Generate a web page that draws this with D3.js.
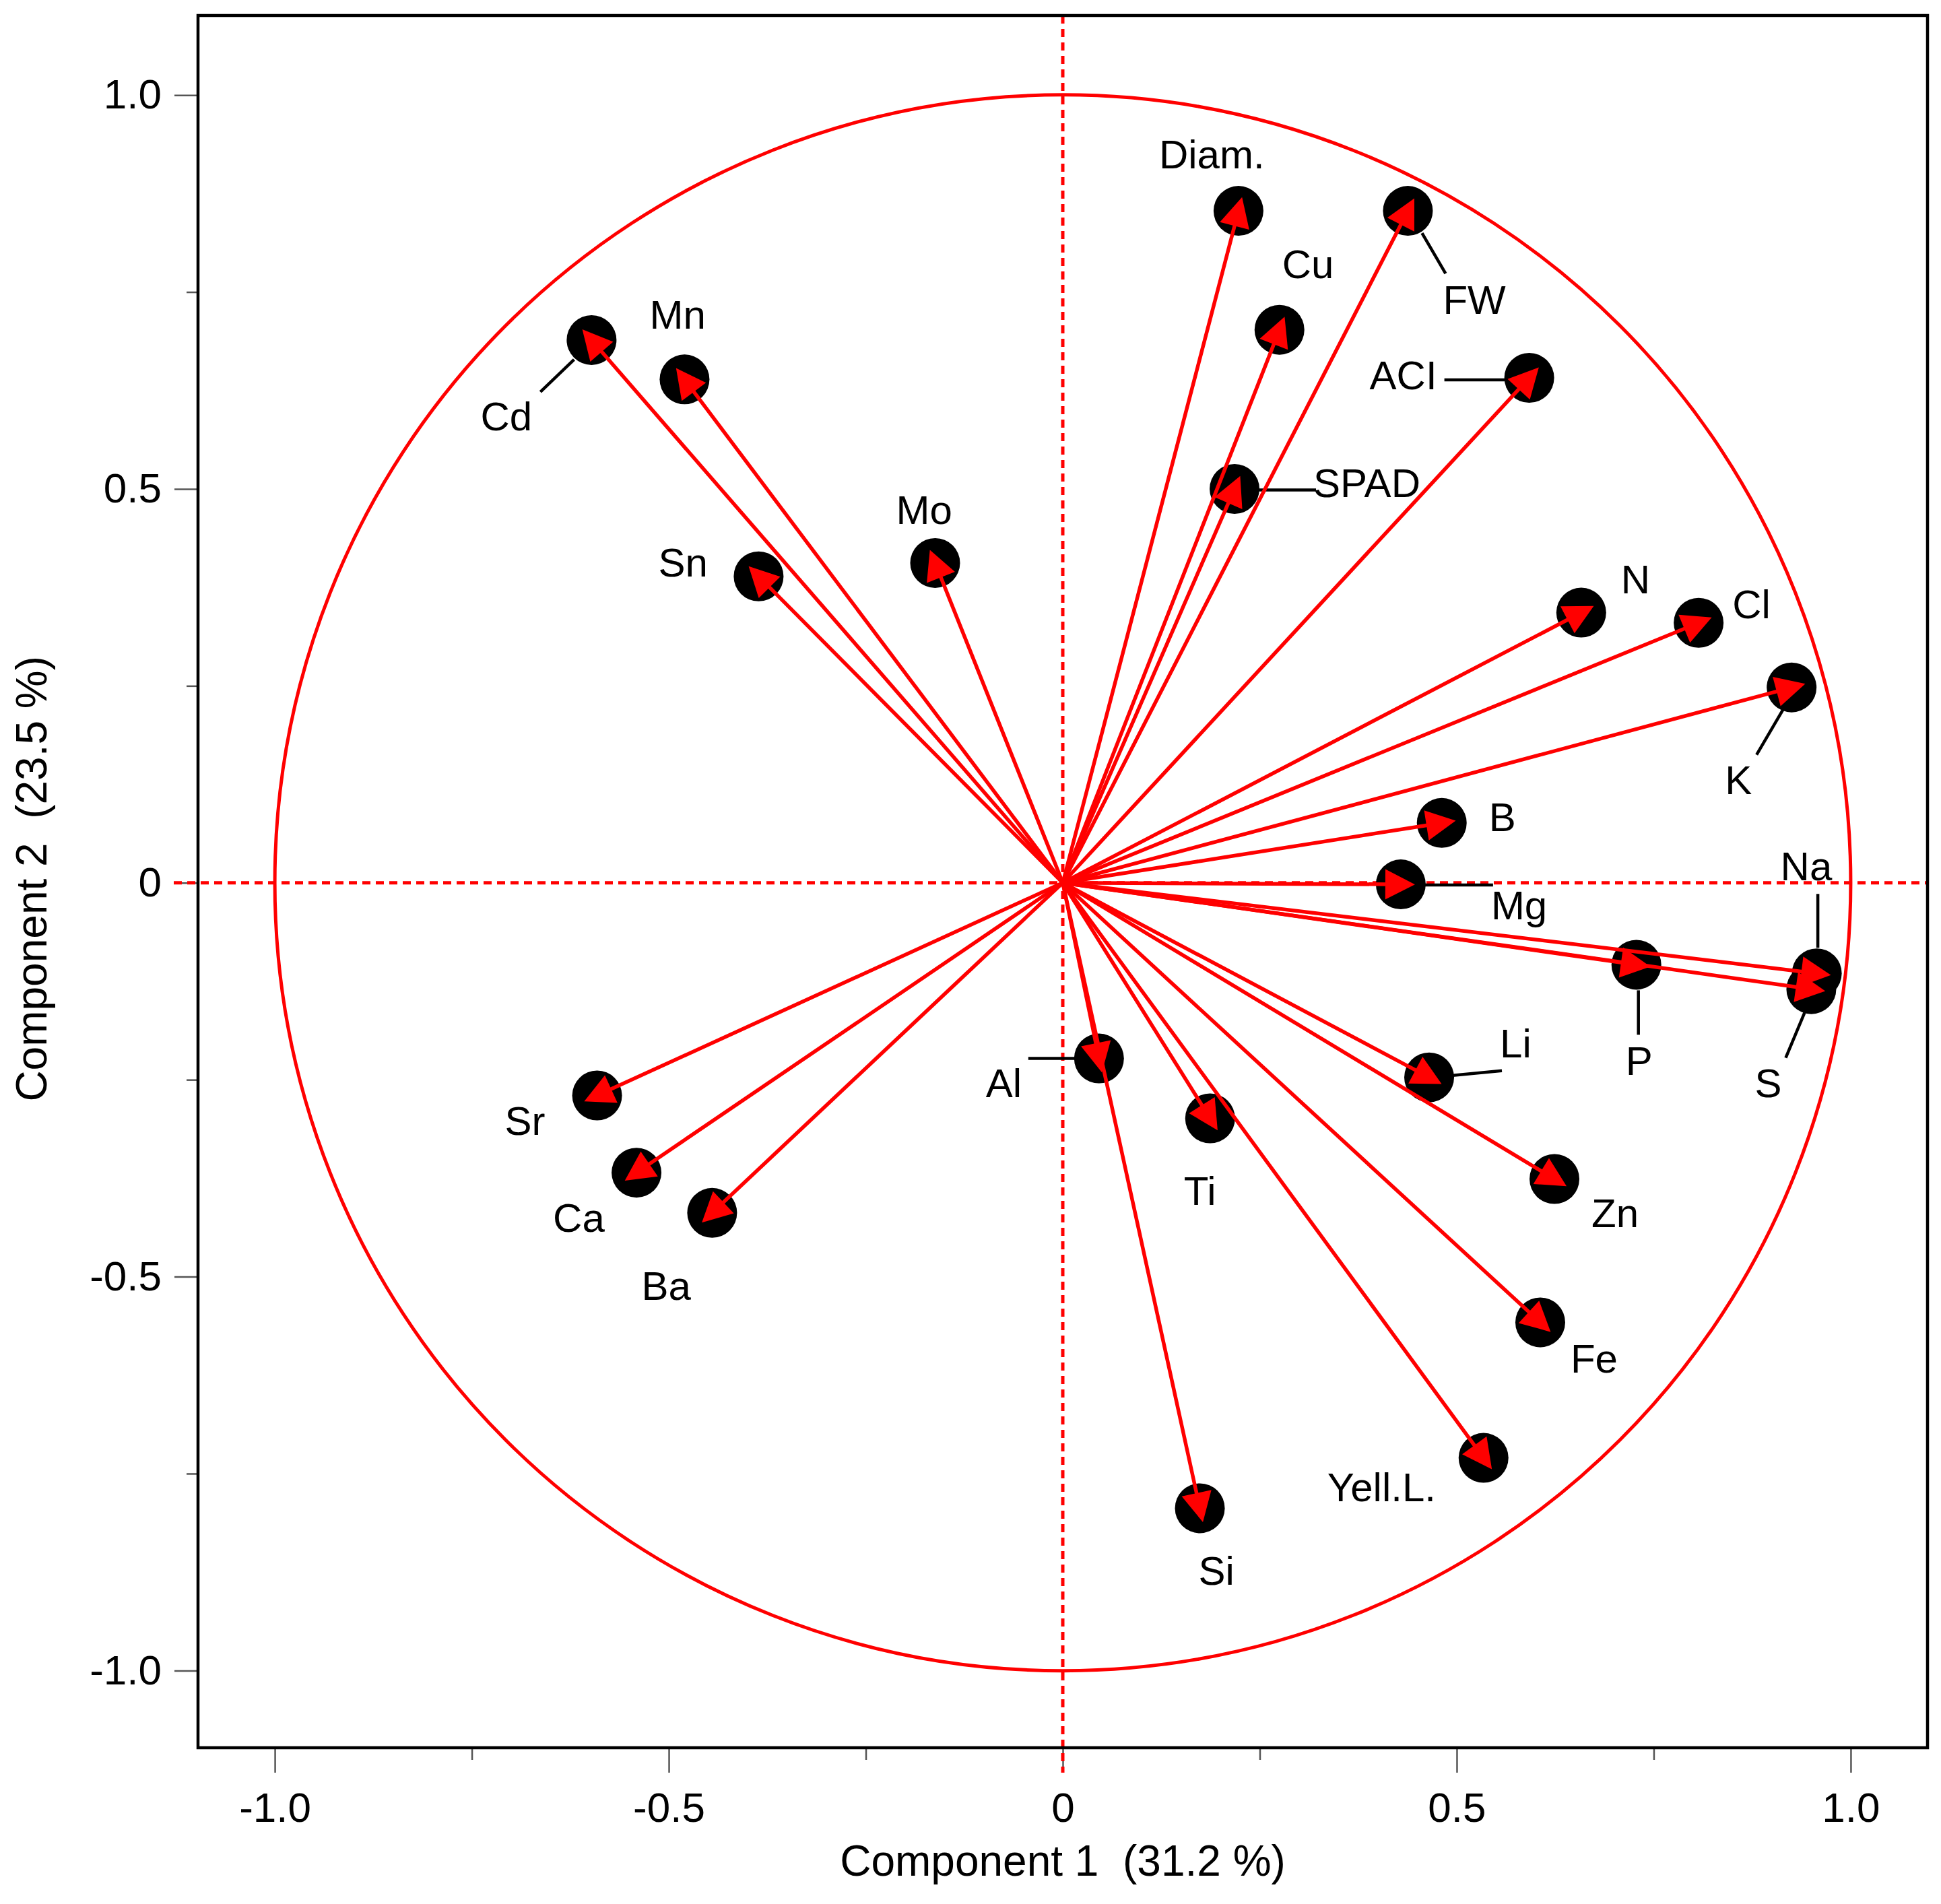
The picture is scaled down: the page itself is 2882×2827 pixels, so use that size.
<!DOCTYPE html>
<html>
<head>
<meta charset="utf-8">
<script src="https://cdn.jsdelivr.net/npm/d3@7"></script>
<style>
  html, body { margin: 0; padding: 0; background: #fff; }
  svg { display: block; }
  text { font-family: "Liberation Sans", Arial, Helvetica, sans-serif; fill: #000; }
</style>
</head>
<body>
<script>
// ---- data (loadings) ----
const variables = ["Diam.","FW","Cu","ACI","SPAD","Cd","Mn","Sn","Mo","N","Cl","K","B","Mg","P","Na","S","Li","Al","Ti","Zn","Fe","Yell.L.","Si","Sr","Ca","Ba"];
const comp1 = [0.223,0.438,0.275,0.592,0.218,-0.598,-0.480,-0.386,-0.162,0.658,0.807,0.925,0.481,0.429,0.728,0.957,0.950,0.465,0.046,0.187,0.624,0.606,0.534,0.174,-0.591,-0.541,-0.445];
const comp2 = [0.853,0.853,0.702,0.641,0.500,0.689,0.639,0.389,0.406,0.343,0.330,0.248,0.076,-0.002,-0.104,-0.115,-0.135,-0.247,-0.223,-0.299,-0.376,-0.558,-0.730,-0.794,-0.270,-0.368,-0.419];
const majorTicks = [-1.0,-0.5,0,0.5,1.0];
const majorTickLabels = ["-1.0","-0.5","0","0.5","1.0"];
const minorTicks = [-0.75,-0.25,0.25,0.75];
const xTitle = "Component 1  (31.2 %)";
const yTitle = "Component 2  (23.5 %)";

// ---- label placement (pixel offsets from each point: text left/baseline, optional leader) ----
const labelOffset = {
  "Diam.":[-118,-63], "FW":[52,153], "Cu":[4,-77], "ACI":[-237,17], "SPAD":[117,12],
  "Cd":[-165,134], "Mn":[-52,-75], "Sn":[-149,0], "Mo":[-58,-58],
  "N":[59,-29], "Cl":[50,-7], "K":[-99,158], "B":[70,12], "Mg":[134,52],
  "P":[-16,164], "Na":[-54,-138], "S":[-84,160], "Li":[105,-30],
  "Al":[-168,57], "Ti":[-39,129], "Zn":[55,71], "Fe":[45,75], "Yell.L.":[-232,64],
  "Si":[-2,114], "Sr":[-137,58], "Ca":[-124,88], "Ba":[-105,129]
};
const leaderOffset = {
  "FW":[21,33,56,93], "ACI":[-126,3,-36,3], "SPAD":[36,1.5,121,1.5], "Cd":[-26,29,-76,77],
  "K":[-11,30,-52,100], "Mg":[35,1,137,1], "Na":[1.5,-118,1.5,-38], "P":[3,38,3,104],
  "S":[-10,35,-38,102], "Li":[35,-3,108,-10], "Al":[-105,0,-35,0]
};

const W = 2882, H = 2827;
const RED = "#ff0000";
const svg = d3.select("body").append("svg").attr("width", W).attr("height", H);

const x = d3.scaleLinear().domain([-1.0975, 1.0975]).range([294, 2862]);
const y = d3.scaleLinear().domain([-1.098, 1.101]).range([2595, 23]);
const [x0, x1] = x.range();
const [y1, y0] = [y.range()[0], y.range()[1]];

const points = variables.map((v, i) => ({ name: v, c1: comp1[i], c2: comp2[i] }));

// ---- axes ----
const fmt = d => majorTickLabels[majorTicks.indexOf(d)];
const styleAxis = (g, fs) => {
  g.select(".domain").remove();
  g.selectAll(".tick line").attr("stroke", "#555").attr("stroke-width", 2.5);
  g.selectAll(".tick text").style("font-size", fs + "px")
    .style("font-family", '"Liberation Sans", Arial, Helvetica, sans-serif').attr("fill", "#000");
};
svg.append("g").attr("transform", `translate(0,${y1})`)
  .call(d3.axisBottom(x).tickValues(majorTicks).tickFormat(fmt).tickSize(37).tickPadding(29))
  .call(g => styleAxis(g, 62));
svg.append("g").attr("transform", `translate(0,${y1})`)
  .call(d3.axisBottom(x).tickValues(minorTicks).tickFormat("").tickSize(18))
  .call(g => styleAxis(g, 62));
svg.append("g").attr("transform", `translate(${x0},0)`)
  .call(d3.axisLeft(y).tickValues(majorTicks).tickFormat(fmt).tickSize(35).tickPadding(19))
  .call(g => styleAxis(g, 62));
svg.append("g").attr("transform", `translate(${x0},0)`)
  .call(d3.axisLeft(y).tickValues(minorTicks).tickFormat("").tickSize(17))
  .call(g => styleAxis(g, 62));

// axis titles
svg.append("text").attr("x", (x0 + x1) / 2).attr("y", 2785).attr("text-anchor", "middle")
  .style("font-size", "64px").style("white-space", "pre").attr("xml:space", "preserve").text(xTitle);
svg.append("text").attr("transform", `translate(69,${y(0) - 6}) rotate(-90)`).attr("text-anchor", "middle")
  .style("font-size", "64px").style("white-space", "pre").attr("xml:space", "preserve").text(yTitle);

// ---- reference dashed lines ----
svg.append("line").attr("x1", 258).attr("x2", x1).attr("y1", y(0)).attr("y2", y(0))
  .attr("stroke", RED).attr("stroke-width", 5).attr("stroke-dasharray", "12,8");
svg.append("line").attr("x1", x(0)).attr("x2", x(0)).attr("y1", y0).attr("y2", 2632)
  .attr("stroke", RED).attr("stroke-width", 5).attr("stroke-dasharray", "12,8");

// ---- unit circle ----
svg.append("circle").attr("cx", x(0)).attr("cy", y(0)).attr("r", x(1) - x(0))
  .attr("fill", "none").attr("stroke", RED).attr("stroke-width", 5);

// ---- frame ----
svg.append("rect").attr("x", x0).attr("y", y0).attr("width", x1 - x0).attr("height", y1 - y0)
  .attr("fill", "none").attr("stroke", "#000").attr("stroke-width", 4.5);

const ox = x(0), oy = y(0);

// ---- leader lines ----
svg.append("g").selectAll("line").data(points.filter(p => leaderOffset[p.name])).join("line")
  .attr("x1", p => x(p.c1) + leaderOffset[p.name][0]).attr("y1", p => y(p.c2) + leaderOffset[p.name][1])
  .attr("x2", p => x(p.c1) + leaderOffset[p.name][2]).attr("y2", p => y(p.c2) + leaderOffset[p.name][3])
  .attr("stroke", "#000").attr("stroke-width", 4.5);

// ---- black markers ----
svg.append("g").selectAll("circle").data(points).join("circle")
  .attr("cx", p => x(p.c1)).attr("cy", p => y(p.c2)).attr("r", 37).attr("fill", "#000");

// ---- arrow shafts ----
const geom = p => {
  const cx = x(p.c1), cy = y(p.c2);
  const dx = cx - ox, dy = cy - oy, L = Math.hypot(dx, dy);
  const ux = dx / L, uy = dy / L;
  return { cx, cy, ux, uy };
};
svg.append("g").selectAll("line").data(points).join("line")
  .attr("x1", ox).attr("y1", oy)
  .attr("x2", p => { const g = geom(p); return g.cx - 15 * g.ux; })
  .attr("y2", p => { const g = geom(p); return g.cy - 15 * g.uy; })
  .attr("stroke", RED).attr("stroke-width", 5.5);

// ---- arrow heads ----
svg.append("g").selectAll("path").data(points).join("path")
  .attr("d", p => {
    const g = geom(p);
    const tx = g.cx + 21 * g.ux, ty = g.cy + 21 * g.uy;
    const bx = g.cx - 23 * g.ux, by = g.cy - 23 * g.uy;
    const px = -g.uy, py = g.ux, hw = 22.5;
    return `M${tx},${ty}L${bx + hw * px},${by + hw * py}L${bx - hw * px},${by - hw * py}Z`;
  })
  .attr("fill", RED);

// ---- variable labels ----
svg.append("g").selectAll("text").data(points).join("text")
  .attr("x", p => x(p.c1) + labelOffset[p.name][0])
  .attr("y", p => y(p.c2) + labelOffset[p.name][1])
  .style("font-size", "60px")
  .text(p => p.name);
</script>
</body>
</html>
